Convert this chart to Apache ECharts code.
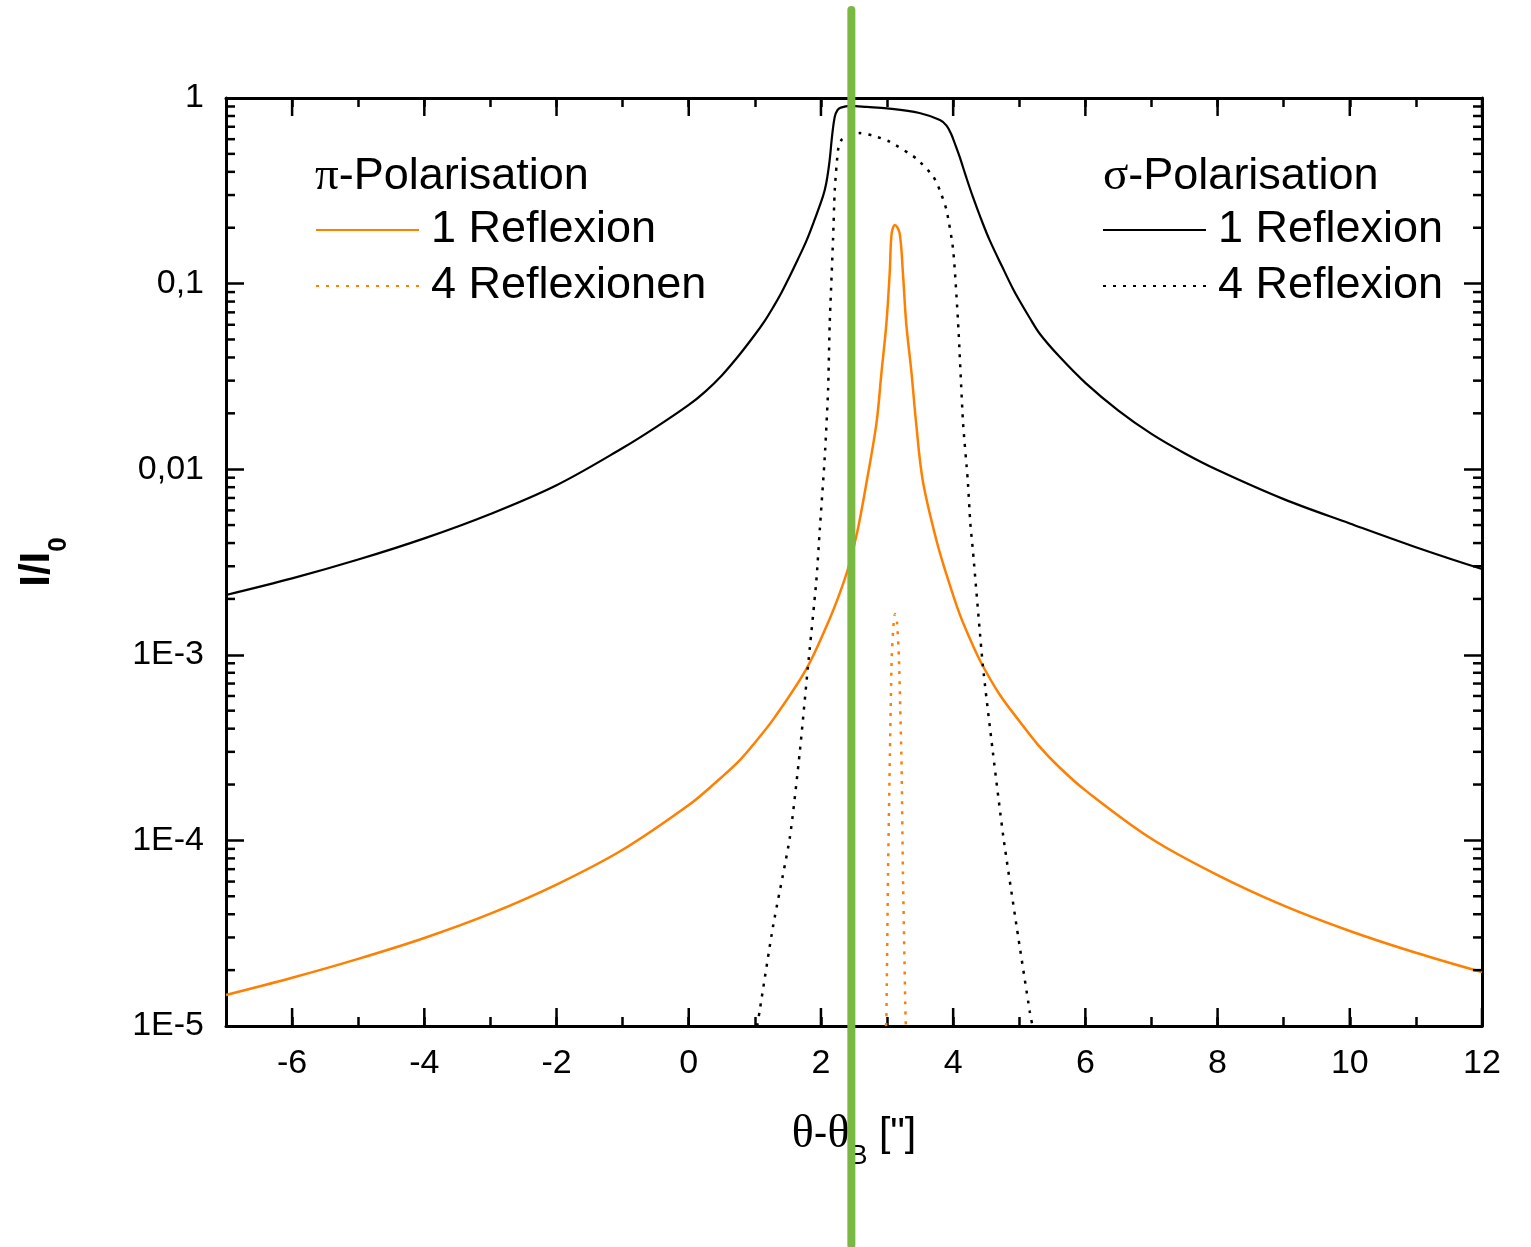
<!DOCTYPE html>
<html><head><meta charset="utf-8">
<script src="https://cdn.jsdelivr.net/npm/echarts@6/dist/echarts.min.js"></script>
<style>html,body{margin:0;padding:0;background:#fff}#c{width:1531px;height:1247px}</style>
</head><body><div id="c"></div>
<script>
// ---- axes / ticks ----
const xMin = -7, xMax = 12;
const xMajorTicks = [-6, -4, -2, 0, 2, 4, 6, 8, 10, 12];
const yMin = 1e-5, yMax = 1;
const yTickValues = [1e-5, 1e-4, 1e-3, 1e-2, 1e-1, 1];
const yTickLabels = ['1E-5', '1E-4', '1E-3', '0,01', '0,1', '1'];
const yMinorTicks = [2e-5,3e-5,4e-5,5e-5,6e-5,7e-5,8e-5,9e-5,
  2e-4,3e-4,4e-4,5e-4,6e-4,7e-4,8e-4,9e-4,
  2e-3,3e-3,4e-3,5e-3,6e-3,7e-3,8e-3,9e-3,
  0.02,0.03,0.04,0.05,0.06,0.07,0.08,0.09,
  0.2,0.3,0.4,0.5,0.6,0.7,0.8,0.9];
const xAxisTitle = '{g|θ}-{g|θ}{sub|B} ["]';
const yAxisTitle = 'I/I{sub|0}';
const headings = ['{g|π}-Polarisation', '{g|σ}-Polarisation'];
const seriesNames = ['π-Polarisation 1 Reflexion', 'π-Polarisation 4 Reflexionen',
                     'σ-Polarisation 1 Reflexion', 'σ-Polarisation 4 Reflexion'];

// ---- σ-Polarisation, 1 Reflexion (black solid) ----
const sigma1X = [-7,-6,-5,-4,-3,-2,-1,-0.5,0,0.25,0.5,0.77,1.0,1.15,1.276,1.4,1.5,1.65,1.78,1.9,2.03,2.08,2.13,2.17,2.21,2.25,2.3,2.44,2.7,3.0,3.49,3.8,3.9,3.97,4.04,4.1,4.2,4.3,4.42,4.55,4.75,4.9,5.0,5.15,5.31,5.6,6,6.5,7,7.5,8,9,10,11,12];
const sigma1Y = [0.0021,0.00258,0.00326,0.00424,0.00574,0.0082,0.0130,0.0168,0.0222,0.0262,0.0320,0.0415,0.0530,0.063,0.0745,0.0891,0.1047,0.135,0.17,0.219,0.295,0.347,0.457,0.631,0.794,0.861,0.887,0.906,0.895,0.88,0.83,0.76,0.71,0.64,0.55,0.48,0.372,0.292,0.224,0.172,0.1216,0.0944,0.0813,0.0661,0.0537,0.0407,0.0292,0.0207,0.0155,0.0122,0.0099,0.0069,0.0051,0.0038,0.0029];
// ---- σ-Polarisation, 4 Reflexion (black dotted) ----
const sigma4X = [1.035,1.07,1.275,1.53,1.68,1.80,1.93,1.982,2.058,2.108,2.133,2.183,2.209,2.259,2.31,2.386,2.587,2.8,3.04,3.44,3.70,3.797,3.90,4.0,4.075,4.15,4.22,4.26,4.30,4.45,4.60,4.76,4.96,5.16,5.2];
const sigma4Y = [1.0e-5,1.19e-5,3.44e-5,1.04e-4,3.0e-4,8.4e-4,2.5e-3,4.7e-3,0.0117,0.0267,0.0613,0.172,0.319,0.525,0.594,0.619,0.647,0.625,0.581,0.473,0.377,0.319,0.249,0.152,0.0613,0.0177,0.0088,0.0051,0.0036,8.7e-4,3.0e-4,1.04e-4,3.44e-5,1.19e-5,1.0e-5];
// ---- π-Polarisation, 1 Reflexion (orange solid) ----
const pi1X = [-7,-6,-5,-4,-3,-2,-1,0,0.4,0.77,1.0,1.3,1.78,2.1,2.285,2.42,2.55,2.69,2.84,2.915,2.99,3.04,3.07,3.12,3.19,3.24,3.29,3.37,3.44,3.54,3.75,3.9,4.1,4.3,4.45,4.7,5.0,5.3,5.61,6,7,8,9,10,11,12];
const pi1Y = [1.47e-5,1.82e-5,2.3e-5,2.98e-5,4.03e-5,5.78e-5,8.9e-5,1.55e-4,2.04e-4,2.7e-4,3.36e-4,4.6e-4,8.4e-4,1.47e-3,2.15e-3,3.0e-3,4.6e-3,8.5e-3,0.0177,0.033,0.061,0.114,0.187,0.207,0.187,0.114,0.061,0.033,0.0177,0.0087,0.0041,0.0027,0.00165,1.12e-3,8.7e-4,6.13e-4,4.4e-4,3.22e-4,2.47e-4,1.86e-4,1.02e-4,6.5e-5,4.45e-5,3.25e-5,2.48e-5,1.95e-5];
// ---- π-Polarisation, 4 Reflexionen (orange dotted) ----
const pi4X = [2.985,2.99,3.015,3.04,3.07,3.10,3.12,3.15,3.18,3.22,3.24,3.28,3.285];
const pi4Y = [1.0e-5,1.1e-5,6.7e-5,2.5e-4,9.5e-4,1.5e-3,1.66e-3,1.5e-3,9.5e-4,2.5e-4,6.7e-5,1.1e-5,1.0e-5];
// ---- green vertical marker ----
const markerX = [2.46, 2.46];
const markerY = [0, 1];

const F = 'Liberation Sans, Arial, sans-serif';
const SERIF = 'Liberation Serif, Times New Roman, serif';
const ORANGE = '#ff7f00';
const GREEN = '#78b843';
const zip = (xs, ys) => xs.map((x, i) => [x, ys[i]]);
const stripName = n => n.replace(/^.*?Polarisation /, '');

function yLabel(v) {
  const e = Math.round(Math.log10(v));
  const idx = yTickValues.findIndex(t => Math.round(Math.log10(t)) === e);
  return idx >= 0 ? yTickLabels[idx] : '';
}

const chart = echarts.init(document.getElementById('c'), null, {renderer: 'canvas'});
const tickStyle = {color: '#000', width: 2.5};
const lineStyleAxis = {color: '#000', width: 3};
const legendCommon = {orient: 'vertical', top: 207, padding: 0,
  itemWidth: 103, itemHeight: 14, itemGap: 10, selectedMode: false, formatter: stripName,
  itemStyle: {opacity: 0, borderWidth: 0},
  textStyle: {fontSize: 45, lineHeight: 46, fontFamily: F, color: '#000', padding: [0, 0, 0, 7]}};

const option = {
  backgroundColor: '#fff',
  animation: false,
  grid: [
    {left: 226, right: 49, top: 98, bottom: 221, containLabel: false, outerBoundsMode: 'none'},
    {left: 226, right: 49, top: 10, bottom: 2, containLabel: false, outerBoundsMode: 'none'}
  ],
  xAxis: [
    {type: 'value', gridIndex: 0, position: 'bottom', min: xMin, max: xMax, interval: 1,
     axisLine: {onZero: false, lineStyle: lineStyleAxis},
     axisTick: {inside: true, length: 9, lineStyle: tickStyle},
     splitLine: {show: false},
     axisLabel: {margin: 21, fontSize: 34, fontFamily: F, color: '#000',
       formatter: v => xMajorTicks.includes(v) ? String(v) : ''},
     name: xAxisTitle, nameLocation: 'middle', nameGap: 74,
     nameTextStyle: {fontSize: 41, fontFamily: F, color: '#000', lineHeight: 70,
       rich: {g: {fontFamily: SERIF, fontSize: 46, color: '#000'},
              sub: {fontSize: 27, fontFamily: F, lineHeight: 26, verticalAlign: 'bottom', color: '#000'}}}},
    {type: 'value', gridIndex: 0, position: 'top', min: xMin, max: xMax, interval: 1,
     axisLine: {onZero: false, lineStyle: lineStyleAxis},
     axisTick: {inside: true, length: 9, lineStyle: tickStyle},
     splitLine: {show: false}, axisLabel: {show: false}},
    {type: 'value', gridIndex: 1, min: xMin, max: xMax, show: false}
  ],
  yAxis: [
    {type: 'log', gridIndex: 0, position: 'left', min: yMin, max: yMax, logBase: 10,
     axisLine: {onZero: false, lineStyle: lineStyleAxis},
     axisTick: {inside: true, length: 18, lineStyle: tickStyle},
     splitLine: {show: false}, minorTick: {show: false},
     axisLabel: {margin: 22, fontSize: 34, fontFamily: F, color: '#000', formatter: yLabel},
     name: yAxisTitle, nameLocation: 'middle', nameGap: 154,
     nameTextStyle: {fontSize: 42, fontFamily: F, fontWeight: 'bold', color: '#000', lineHeight: 70,
       rich: {sub: {fontSize: 26, fontFamily: F, lineHeight: 20, verticalAlign: 'bottom', color: '#000'}}}},
    {type: 'log', gridIndex: 0, position: 'right', min: yMin, max: yMax, logBase: 10,
     axisLine: {onZero: false, lineStyle: lineStyleAxis},
     axisTick: {inside: true, length: 18, lineStyle: tickStyle},
     splitLine: {show: false}, axisLabel: {show: false}},
    {type: 'value', gridIndex: 1, min: 0, max: 1, show: false}
  ],
  legend: [
    Object.assign({data: [seriesNames[0], seriesNames[1]], left: 315}, legendCommon),
    Object.assign({data: [seriesNames[2], seriesNames[3]], left: 1102}, legendCommon)
  ],
  graphic: [
    {type: 'text', left: 315, top: 153, z: 100,
     style: {text: headings[0], fontSize: 45, fontFamily: F, fill: '#000',
       rich: {g: {fontFamily: SERIF, fontSize: 47, fill: '#000'}}}},
    {type: 'text', left: 1103, top: 153, z: 100,
     style: {text: headings[1], fontSize: 45, fontFamily: F, fill: '#000',
       rich: {g: {fontFamily: SERIF, fontSize: 47, fill: '#000'}}}}
  ],
  series: [
    {name: seriesNames[0], type: 'line', xAxisIndex: 0, yAxisIndex: 0, data: zip(pi1X, pi1Y),
     showSymbol: false, symbol: 'none', smooth: 0.35, color: ORANGE,
     lineStyle: {color: ORANGE, width: 2.5, type: 'solid'}, z: 3},
    {name: seriesNames[1], type: 'line', xAxisIndex: 0, yAxisIndex: 0, data: zip(pi4X, pi4Y),
     showSymbol: false, symbol: 'none', smooth: 0.2, color: ORANGE,
     lineStyle: {color: ORANGE, width: 2.5, type: [3, 7]}, z: 3},
    {name: seriesNames[2], type: 'line', xAxisIndex: 0, yAxisIndex: 0, data: zip(sigma1X, sigma1Y),
     showSymbol: false, symbol: 'none', smooth: 0.35, color: '#000',
     lineStyle: {color: '#000', width: 2.2, type: 'solid'}, z: 3},
    {name: seriesNames[3], type: 'line', xAxisIndex: 0, yAxisIndex: 0, data: zip(sigma4X, sigma4Y),
     showSymbol: false, symbol: 'none', smooth: 0.2, color: '#000',
     lineStyle: {color: '#000', width: 2.5, type: [3, 7]}, z: 3},
    // major x ticks (bottom + top)
    {type: 'custom', xAxisIndex: 0, yAxisIndex: 0, silent: true, clip: false, z: 5,
     data: xMajorTicks.map(v => [v, yMax]),
     renderItem: (params, api) => {
       const cs = params.coordSys;
       const p = api.coord([api.value(0), api.value(1)]);
       return {type: 'group', children: [
         {type: 'line', shape: {x1: p[0], y1: cs.y + cs.height, x2: p[0], y2: cs.y + cs.height - 18}, style: {stroke: '#000', lineWidth: 2.5}},
         {type: 'line', shape: {x1: p[0], y1: cs.y, x2: p[0], y2: cs.y + 18}, style: {stroke: '#000', lineWidth: 2.5}}
       ]};
     }},
    // minor y ticks (left + right)
    {type: 'custom', xAxisIndex: 0, yAxisIndex: 0, silent: true, clip: false, z: 5,
     data: yMinorTicks.map(v => [xMin, v]),
     renderItem: (params, api) => {
       const cs = params.coordSys;
       const p = api.coord([api.value(0), api.value(1)]);
       return {type: 'group', children: [
         {type: 'line', shape: {x1: cs.x, y1: p[1], x2: cs.x + 9, y2: p[1]}, style: {stroke: '#000', lineWidth: 2.5}},
         {type: 'line', shape: {x1: cs.x + cs.width, y1: p[1], x2: cs.x + cs.width - 9, y2: p[1]}, style: {stroke: '#000', lineWidth: 2.5}}
       ]};
     }},
    // green vertical marker line
    {name: 'marker', type: 'line', xAxisIndex: 2, yAxisIndex: 2, data: zip(markerX, markerY),
     showSymbol: false, symbol: 'none', silent: true, z: 20,
     lineStyle: {color: GREEN, width: 8, cap: 'round'}}
  ]
};
chart.setOption(option);
</script>
</body></html>
